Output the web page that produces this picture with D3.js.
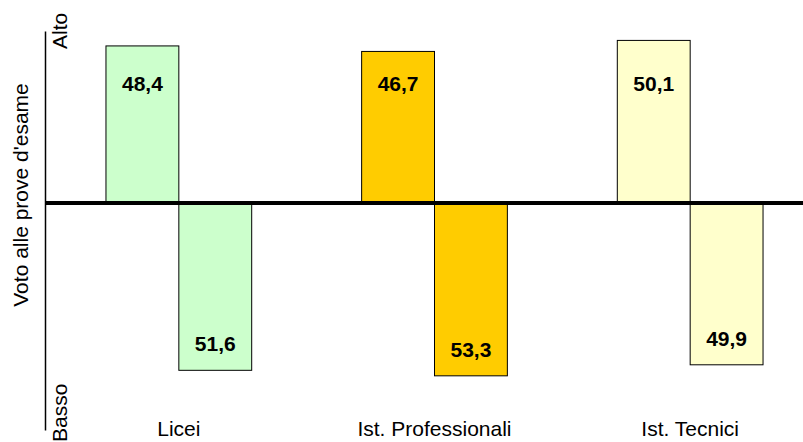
<!doctype html>
<html lang="it">
<head>
	<meta charset="utf-8">
	<title>Voto alle prove d'esame</title>
	<script src="https://cdn.jsdelivr.net/npm/d3@7/dist/d3.min.js"></script>
	<style>
		body { margin: 0; background: #fff; }
		svg { display: block; font-family: "Liberation Sans", Arial, sans-serif; }
	</style>
</head>
<body>
	<div id="svg"></div>
	<script>
		// dati
		var categories = ["Licei", "Ist. Professionali", "Ist. Tecnici"];
		var altoValues = [48.4, 46.7, 50.1];
		var bassoValues = [51.6, 53.3, 49.9];
		var fillColors = ["#ccffcc", "#ffcc00", "#ffffcc"];
		var yDomain = [-70, 53];

		var widthSvg = 803;
		var heightSvg = 442;

		var svg = d3.select("#svg").append("svg")
			.attr("width", widthSvg)
			.attr("height", heightSvg);

		var xScale = d3.scaleBand()
			.domain(categories)
			.range([51, 818])
			.paddingInner(0.43)
			.paddingOuter(0.215);

		var subScale = d3.scaleBand()
			.domain(["alto", "basso"])
			.range([0, xScale.bandwidth()]);

		var yScale = d3.scaleLinear()
			.domain(yDomain)
			.range([430, 31]);

		var data = [];
		categories.forEach(function(c, i) {
			data.push({ cat: c, part: "alto", value: altoValues[i], color: fillColors[i] });
			data.push({ cat: c, part: "basso", value: -bassoValues[i], color: fillColors[i] });
		});

		// asse verticale senza tacche
		svg.append("g")
			.attr("transform", "translate(45,0)")
			.call(d3.axisLeft(yScale).ticks(0).tickSizeOuter(0))
			.select(".domain")
			.attr("stroke", "#000")
			.attr("stroke-width", 1.5);

		svg.selectAll(".bar")
			.data(data)
			.enter().append("rect")
			.attr("class", "bar")
			.attr("x", function(d) { return xScale(d.cat) + subScale(d.part); })
			.attr("y", function(d) { return yScale(Math.max(0, d.value)); })
			.attr("width", subScale.bandwidth())
			.attr("height", function(d) { return Math.abs(yScale(d.value) - yScale(0)); })
			.attr("fill", function(d) { return d.color; })
			.attr("stroke", "#000")
			.attr("stroke-width", 1);

		// linea dello zero
		svg.append("line")
			.attr("x1", 45)
			.attr("x2", widthSvg)
			.attr("y1", yScale(0))
			.attr("y2", yScale(0))
			.attr("stroke", "#000")
			.attr("stroke-width", 4);

		svg.selectAll(".val")
			.data(data)
			.enter().append("text")
			.attr("class", "val")
			.attr("x", function(d) { return xScale(d.cat) + subScale(d.part) + subScale.bandwidth() / 2; })
			.attr("y", function(d) { return d.value > 0 ? yScale(34.5) : yScale(d.value) - 19; })
			.attr("text-anchor", "middle")
			.attr("font-size", "21px")
			.attr("font-weight", "bold")
			.attr("fill", "#000")
			.text(function(d) { return d3.format(".1f")(Math.abs(d.value)).replace(".", ","); });

		svg.selectAll(".cat")
			.data(categories)
			.enter().append("text")
			.attr("class", "cat")
			.attr("x", function(d) { return xScale(d) + xScale.bandwidth() / 2; })
			.attr("y", 436)
			.attr("text-anchor", "middle")
			.attr("font-size", "21px")
			.text(function(d) { return d; });

		svg.append("text")
			.attr("transform", "translate(28,195) rotate(-90)")
			.attr("text-anchor", "middle")
			.attr("font-size", "21px")
			.text("Voto alle prove d'esame");

		svg.append("text")
			.attr("transform", "translate(67,49) rotate(-90)")
			.attr("font-size", "21px")
			.text("Alto");

		svg.append("text")
			.attr("transform", "translate(67,442) rotate(-90)")
			.attr("font-size", "21px")
			.text("Basso");
	</script>
</body>
</html>
